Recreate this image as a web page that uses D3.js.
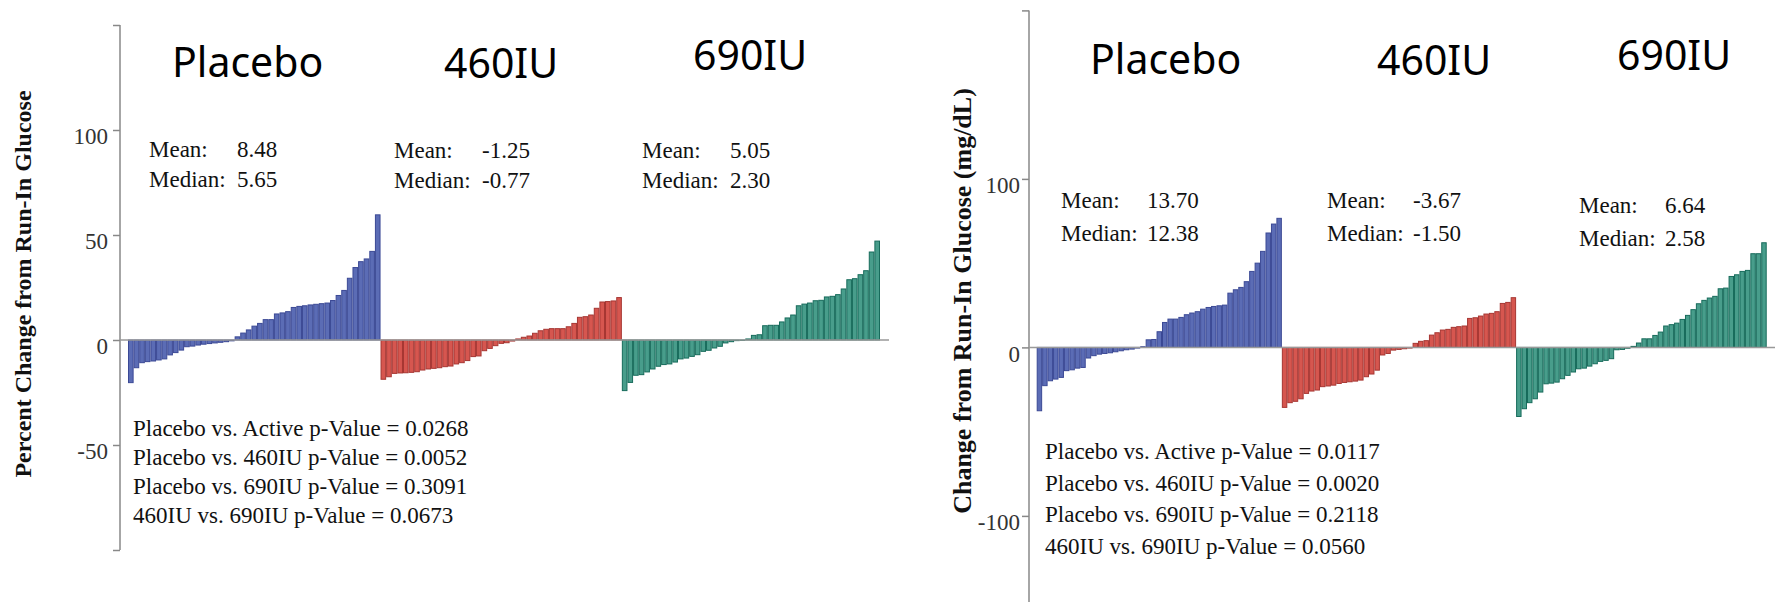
<!DOCTYPE html>
<html>
<head>
<meta charset="utf-8">
<script src="https://cdn.jsdelivr.net/npm/d3@7/dist/d3.min.js"></script>
<style>
  body { margin: 0; background: #fff; }
  svg text { font-family: "Liberation Serif", "Times New Roman", serif; fill: #111; }
  .grp { font-family: "Noto Sans", "Open Sans", sans-serif; font-size: 41px; fill: #000; }
  .tick-lbl { fill: #333; }
</style>
</head>
<body>
<div id="chart-area"></div>
<script>
// group names and colours
var groups = ["Placebo", "460IU", "690IU"];
var fills = ["#5b6cb5", "#d6564f", "#489d8b"];
var strokes = ["#3b4995", "#a63632", "#176b5b"];

// left panel: percent change, sorted per subject
var pctPlacebo = [-20.3, -13.2, -10.8, -10.3, -10, -9.5, -9, -7.1, -6, -4.8, -3.2, -2.9, -2.4, -2, -1.7, -1.4, -1.1, -0.8, -0.4,
  1.5, 3.3, 4.8, 6.6, 7.9, 9.7, 9.7, 12.4, 12.9, 13.5, 15.5, 16, 16.3, 16.7, 17, 17.3, 17.6, 18.8, 21.2, 23.6, 29.4, 34.5, 37.3, 38.6, 42.2, 59.6];
var pct460 = [-18.7, -17.5, -15.9, -15.7, -15.6, -15.4, -15.1, -14.3, -13.8, -13.5, -13.2, -12.7, -12.4, -11.4, -10.8, -9.8, -7.9, -7.6, -5.1, -4, -2.7, -1.6, -1.3, -0.5,
  0.5, 1.3, 1.9, 3.2, 4.4, 5.1, 5.4, 5.4, 5.4, 6.3, 7.9, 10.8, 11.1, 11.9, 15.1, 18.1, 18.3, 18.6, 20.2];
var pct690 = [-24.1, -20.2, -16.8, -16.5, -15.2, -13.8, -12.5, -11.7, -11.4, -10.5, -9, -8.6, -7.8, -7, -5.4, -4.9, -3.8, -3, -1.4, -0.8, -0.3, -0.2,
  0.5, 2.2, 2.5, 6.8, 7, 7, 8.6, 10.5, 11.9, 16.3, 17.1, 17.6, 18.7, 18.9, 20.5, 20.8, 21.6, 24.3, 28.7, 29.2, 31.1, 33, 41.9, 47.1];

// right panel: change in mg/dL
var mgPlacebo = [-37.6, -22.7, -19.8, -18.8, -17.8, -13.8, -13.3, -12.3, -11.9, -6.3, -4.9, -4, -3.6, -3.2, -2.6, -2, -1.4, -1, -0.4, 0.4,
  4.5, 4.7, 9.3, 14.8, 16.8, 16.8, 17.8, 19.4, 20.4, 21.2, 22.7, 23.7, 24.3, 24.7, 25.1, 32.2, 34.2, 35.6, 39, 45.1, 50, 57, 67.9, 73.2, 76.6];
var mg460 = [-35.6, -32.8, -32, -30.5, -27.3, -25.9, -25.3, -23.3, -22.9, -22.4, -21.4, -20.8, -20.4, -20, -19.4, -17.4, -15.8, -13.5, -4.5, -3.6, -1.6, -1.2, -0.8, -0.4,
  2.4, 3.6, 4, 7.3, 8.7, 10.3, 10.7, 11.9, 12.3, 12.7, 17.2, 17.6, 18.6, 19.8, 20.2, 21.2, 26.1, 26.7, 29.5];
var mg690 = [-41, -36.4, -32.8, -30.5, -26.5, -21.6, -21.2, -20.6, -18.6, -16.6, -14.6, -12.7, -12.3, -11.1, -9.7, -8.3, -7.7, -6.7, -1.4, -1.2, -0.5,
  0.6, 2.6, 5.1, 5.1, 7.1, 9.1, 12.7, 13.5, 14.4, 16.6, 19, 22.4, 25.9, 27.9, 29.3, 30.3, 34.8, 35.2, 42.1, 43.1, 45.1, 45.7, 55.6, 55.6, 62.1];

// summary stats and p-values
var pctMeans = ["8.48", "-1.25", "5.05"];
var pctMedians = ["5.65", "-0.77", "2.30"];
var mgMeans = ["13.70", "-3.67", "6.64"];
var mgMedians = ["12.38", "-1.50", "2.58"];
var pctPvals = ["Placebo vs. Active p-Value = 0.0268", "Placebo vs. 460IU p-Value = 0.0052",
  "Placebo vs. 690IU p-Value = 0.3091", "460IU vs. 690IU p-Value = 0.0673"];
var mgPvals = ["Placebo vs. Active p-Value = 0.0117", "Placebo vs. 460IU p-Value = 0.0020",
  "Placebo vs. 690IU p-Value = 0.2118", "460IU vs. 690IU p-Value = 0.0560"];

var pctTicks = [-100, -50, 0, 50, 100, 150];
var pctTickLabels = ["", "-50", "0", "50", "100", ""];
var mgTicks = [-200, -100, 0, 100, 200];
var mgTickLabels = ["", "-100", "0", "100", ""];

var svg = d3.select("#chart-area")
  .append("svg")
  .attr("width", 1775)
  .attr("height", 602);

drawPanel({
  series: [pctPlacebo, pct460, pct690],
  yDomain: [-100, 150], yRange: [550, 25],
  axisX: 120, axisTop: 25, axisBottom: 550,
  barRange: [128, 880], zeroEnd: 889,
  ticks: pctTicks, tickLabels: pctTickLabels, labelX: 108,
  title: "Percent Change from Run-In Glucose", titleX: 31, titleY: 284, titleSize: 24,
  grpPos: [[172, 77], [444, 78], [693, 70]],
  means: pctMeans, medians: pctMedians,
  statPos: [[149, 157], [394, 158], [642, 158]], statGap: 30, valOff: 88,
  pvals: pctPvals, pX: 133, pY: 436, pGap: 29
});

drawPanel({
  series: [mgPlacebo, mg460, mg690],
  yDomain: [-200, 200], yRange: [684.4, 10.4],
  axisX: 1029, axisTop: 10.4, axisBottom: 700,
  barRange: [1036.7, 1766.7], zeroEnd: 1775,
  ticks: mgTicks, tickLabels: mgTickLabels, labelX: 1020,
  title: "Change from Run-In Glucose (mg/dL)", titleX: 971, titleY: 301, titleSize: 26,
  grpPos: [[1090, 74], [1377, 75], [1617, 70]],
  means: mgMeans, medians: mgMedians,
  statPos: [[1061, 208], [1327, 208], [1579, 213]], statGap: 33, valOff: 86,
  pvals: mgPvals, pX: 1045, pY: 459, pGap: 31.7
});

function drawPanel(c) {
  var g = svg.append("g");

  var y = d3.scaleLinear().domain(c.yDomain).range(c.yRange);

  // one band per subject, groups side by side
  var bars = [];
  c.series.forEach(function(arr, gi) {
    arr.forEach(function(v) { bars.push({ g: gi, v: v }); });
  });
  var x = d3.scaleBand()
    .domain(d3.range(bars.length))
    .range(c.barRange)
    .paddingInner(0);
  var bw = x.bandwidth();

  // axis
  var axis = d3.axisLeft(y)
    .tickValues(c.ticks)
    .tickSize(7)
    .tickFormat(function(d, i) { return c.tickLabels[i]; });
  var ax = g.append("g")
    .attr("transform", "translate(" + c.axisX + ",0)")
    .call(axis)
    .attr("font-family", "'Liberation Serif', serif")
    .attr("font-size", 23);
  ax.select(".domain").remove();
  ax.selectAll(".tick line").attr("stroke", "#888").attr("stroke-width", 1.5);
  ax.selectAll(".tick text")
    .attr("class", "tick-lbl")
    .attr("x", c.labelX - c.axisX)
    .attr("dy", "0.6em");
  g.append("line")
    .attr("x1", c.axisX).attr("x2", c.axisX)
    .attr("y1", c.axisTop).attr("y2", c.axisBottom)
    .attr("stroke", "#888").attr("stroke-width", 1.5);

  // bars
  g.selectAll("rect.bar")
    .data(bars)
    .enter()
    .append("rect")
    .attr("class", "bar")
    .attr("x", function(d, i) { return x(i) + 0.5; })
    .attr("width", bw - 1)
    .attr("y", function(d) { return Math.min(y(d.v), y(0)); })
    .attr("height", function(d) { return Math.abs(y(d.v) - y(0)); })
    .attr("fill", function(d) { return fills[d.g]; })
    .attr("stroke", function(d) { return strokes[d.g]; })
    .attr("stroke-width", 1);

  // zero line
  g.append("line")
    .attr("x1", c.axisX).attr("x2", c.zeroEnd)
    .attr("y1", y(0)).attr("y2", y(0))
    .attr("stroke", "#999").attr("stroke-width", 1.5);

  // y title
  g.append("text")
    .attr("transform", "translate(" + c.titleX + "," + c.titleY + ") rotate(-90)")
    .attr("text-anchor", "middle")
    .style("font-weight", "bold")
    .style("font-size", c.titleSize + "px")
    .text(c.title);

  // group labels
  groups.forEach(function(name, i) {
    g.append("text")
      .attr("class", "grp")
      .attr("x", c.grpPos[i][0])
      .attr("y", c.grpPos[i][1])
      .text(name);
  });

  // mean / median
  c.statPos.forEach(function(p, i) {
    var t = g.append("g").style("font-size", "23px");
    t.append("text").attr("x", p[0]).attr("y", p[1]).text("Mean:");
    t.append("text").attr("x", p[0] + c.valOff).attr("y", p[1]).text(c.means[i]);
    t.append("text").attr("x", p[0]).attr("y", p[1] + c.statGap).text("Median:");
    t.append("text").attr("x", p[0] + c.valOff).attr("y", p[1] + c.statGap).text(c.medians[i]);
  });

  // p-values
  c.pvals.forEach(function(s, i) {
    g.append("text")
      .attr("x", c.pX)
      .attr("y", c.pY + i * c.pGap)
      .style("font-size", "23px")
      .text(s);
  });
}
</script>
</body>
</html>
